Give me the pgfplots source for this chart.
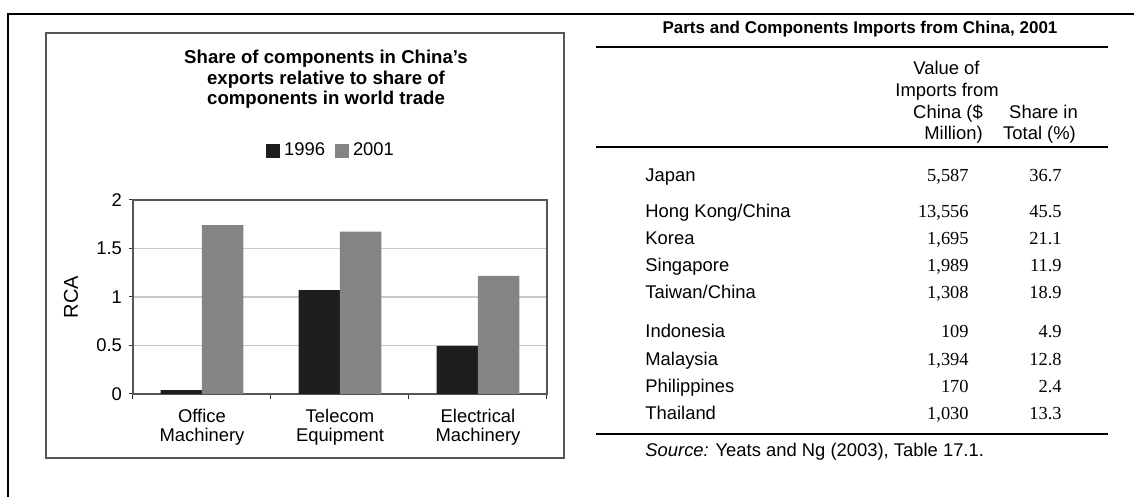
\documentclass[border=0pt]{standalone}
\usepackage{pgfplots}
\pgfplotsset{compat=1.18}
\usepackage{fontspec}
\setmainfont{Liberation Sans}
\newfontfamily\seriffont{Liberation Serif}
\definecolor{darkbar}{HTML}{1E1E1E}
\definecolor{lightbar}{HTML}{848484}
\definecolor{gridc}{HTML}{C8C8C8}
\definecolor{framec}{HTML}{555555}
\newcommand\tf{\fontsize{9.2pt}{10pt}\selectfont}
\begin{document}
\begin{tikzpicture}
\useasboundingbox (0,0) rectangle (567pt,248.5pt);
\begin{axis}[
  at={(66.5pt,51.5pt)}, anchor=south west,
  scale only axis, width=207pt, height=97pt,
  xmin=-0.5, xmax=2.5, ymin=0, ymax=2,
  ybar, bar width=0.3,
  xtick={0,1,2},
  xticklabels={{Office\\Machinery},{Telecom\\Equipment},{Electrical\\Machinery}},
  minor xtick={-0.5,0.5,1.5,2.5},
  ytick={0,0.5,1,1.5,2},
  tick align=outside,
  xtick pos=bottom, ytick pos=left,
  major tick length=2pt, minor tick length=2.5pt,
  major x tick style={draw=none},
  tick style={black!80, line width=0.5pt},
  ymajorgrids, grid style={gridc, line width=0.6pt},
  axis line style={framec, line width=0.6pt},
  tick label style={font=\fontsize{9.2pt}{9.5pt}\selectfont},
  xticklabel style={align=center, yshift=-2pt},
  /pgf/number format/assume math mode=true,
  ylabel={RCA},
  ylabel style={font=\fontsize{10pt}{12pt}\selectfont, at={(axis description cs:-0.15,0.5)}, anchor=center},
  legend columns=2,
  legend style={at={(axis description cs:0.4807,1.2526)}, anchor=center, draw=none, fill=none,
    font=\fontsize{9.2pt}{10pt}\selectfont, inner sep=0pt,
    /tikz/every even column/.append style={column sep=3pt}},
  legend image code/.code={\fill[#1] (0pt,-3.5pt) rectangle (7pt,3.5pt);},
]
\addplot[fill=darkbar, draw=none, bar shift=-0.15] coordinates {(0,0.04) (1,1.072) (2,0.495)};
\addplot[fill=lightbar, draw=none, bar shift=0.15] coordinates {(0,1.742) (1,1.673) (2,1.217)};
\legend{1996,2001}
\end{axis}
\begin{scope}[shift={(0pt,248.5pt)}, x=0.5pt, y=-0.5pt]
  % outer frame
  \draw[line width=1pt] (8,500) -- (8,14) -- (1140,14);
  % chart box
  \draw[framec, line width=0.75pt] (46,33) rectangle (564,458);
  % chart title
  \begin{scope}[every node/.style={anchor=base, inner sep=0pt, font=\bfseries\fontsize{9.3pt}{10pt}\selectfont}]
    \node at (326,64) {Share of components in China’s};
    \node at (326,85) {exports relative to share of};
    \node at (326,105) {components in world trade};
  \end{scope}
  % table
  \node[anchor=base, inner sep=0pt, font=\bfseries\fontsize{8.5pt}{10pt}\selectfont] at (860,34) {Parts and Components Imports from China, 2001};
  \draw[line width=1pt] (596,47) -- (1108,47);
  \draw[line width=1pt] (596,147) -- (1108,147);
  \draw[line width=1pt] (596,434) -- (1108,434);
  \begin{scope}[every node/.style={anchor=base, inner sep=0pt, font=\tf}]
    \node at (946.5,75) {Value of};
    \node at (947,97) {Imports from};
    \node at (948,119) {China (\$};
    \node at (953.5,140) {Million)};
    \node at (1043.5,119) {Share in};
    \node at (1039.5,140) {Total (\%)};
  \end{scope}
  \begin{scope}[every node/.style={anchor=base west, inner sep=0pt, font=\tf}]
    \node at (645,182) {Japan};
    \node at (645,218) {Hong Kong/China};
    \node at (645,245) {Korea};
    \node at (645,272) {Singapore};
    \node at (645,299) {Taiwan/China};
    \node at (645,338) {Indonesia};
    \node at (645,366) {Malaysia};
    \node at (645,393) {Philippines};
    \node at (645,420) {Thailand};
    \node at (645,457) {\itshape Source:\upshape{} Yeats and Ng (2003), Table 17.1.};
  \end{scope}
  \begin{scope}[every node/.style={anchor=base east, inner sep=0pt, font=\seriffont\tf}]
    \node at (969,182) {5,587};   \node at (1062,182) {36.7};
    \node at (969,218) {13,556};  \node at (1062,218) {45.5};
    \node at (969,245) {1,695};   \node at (1062,245) {21.1};
    \node at (969,272) {1,989};   \node at (1062,272) {11.9};
    \node at (969,299) {1,308};   \node at (1062,299) {18.9};
    \node at (969,338) {109};     \node at (1062,338) {4.9};
    \node at (969,366) {1,394};   \node at (1062,366) {12.8};
    \node at (969,393) {170};     \node at (1062,393) {2.4};
    \node at (969,420) {1,030};   \node at (1062,420) {13.3};
  \end{scope}
\end{scope}
\end{tikzpicture}
\end{document}
